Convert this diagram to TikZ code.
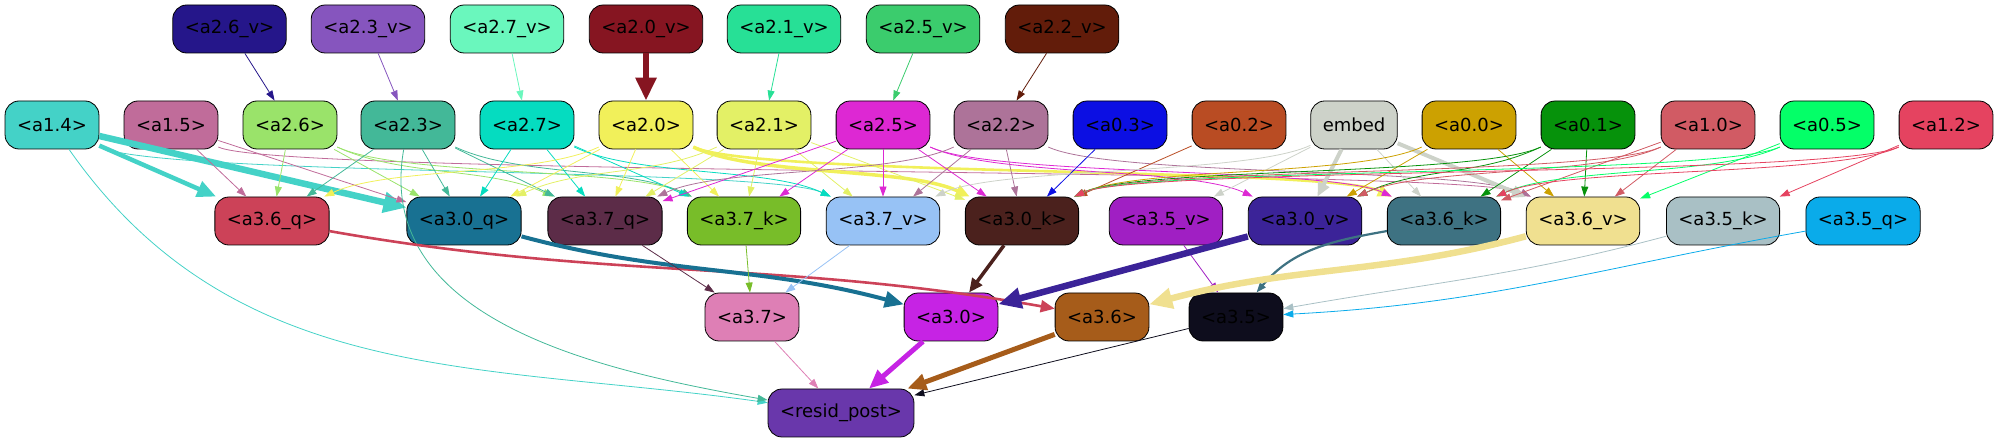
\documentclass[tikz,border=0pt]{standalone}
\usepackage{fontspec}
\setmainfont{DejaVu Sans}
\usetikzlibrary{arrows.meta}
% node colours
\definecolor{c26v}{HTML}{25168A}
\definecolor{c23v}{HTML}{8655BE}
\definecolor{c27v}{HTML}{6AF7BD}
\definecolor{c20v}{HTML}{861521}
\definecolor{c21v}{HTML}{27E096}
\definecolor{c25v}{HTML}{3BCC6D}
\definecolor{c22v}{HTML}{621C0A}
\definecolor{c14}{HTML}{44D2C7}
\definecolor{c15}{HTML}{C06C9A}
\definecolor{c26}{HTML}{9AE36A}
\definecolor{c23}{HTML}{43B898}
\definecolor{c27}{HTML}{05DCC0}
\definecolor{c20}{HTML}{F1F05A}
\definecolor{c21}{HTML}{E3F066}
\definecolor{c25}{HTML}{DD28D3}
\definecolor{c22}{HTML}{AD7399}
\definecolor{c03}{HTML}{0C0FE3}
\definecolor{c02}{HTML}{B94C23}
\definecolor{cemb}{HTML}{CDD2C9}
\definecolor{c00}{HTML}{CCA101}
\definecolor{c01}{HTML}{06920B}
\definecolor{c10}{HTML}{D15B64}
\definecolor{c05}{HTML}{04FF68}
\definecolor{c12}{HTML}{E54360}
\definecolor{c36q}{HTML}{CC4258}
\definecolor{c30q}{HTML}{187192}
\definecolor{c37q}{HTML}{5C2C48}
\definecolor{c37k}{HTML}{78BD29}
\definecolor{c37v}{HTML}{97C2F5}
\definecolor{c30k}{HTML}{4B211D}
\definecolor{c35v}{HTML}{A01FC3}
\definecolor{c30v}{HTML}{3B2398}
\definecolor{c36k}{HTML}{3E7282}
\definecolor{c36v}{HTML}{F0E090}
\definecolor{c35k}{HTML}{A9C0C5}
\definecolor{c35q}{HTML}{0AABEA}
\definecolor{c37}{HTML}{DE7FB5}
\definecolor{c30}{HTML}{C623E4}
\definecolor{c36}{HTML}{A65C1A}
\definecolor{c35}{HTML}{0E0D1D}
\definecolor{cres}{HTML}{6937AB}
\tikzset{
box/.style={ % rounded boxes of the graph
draw, line width=0.4pt,
rounded corners=7pt,
minimum height=24pt,
inner xsep=6pt, inner ysep=0pt,
font=\fontsize{9}{10}\selectfont},
every edge/.style={ % thin connector by default
draw, line width=0.4pt,
-{Triangle[length=5pt,width=3.5pt]}},
wmid/.style={line width=1.3pt, -{Triangle[length=7pt,width=6pt]}},
wfat/.style={line width=2.25pt, -{Triangle[length=9.5pt,width=8pt]}},
wbig/.style={line width=3.25pt, -{Triangle[length=11.5pt,width=10pt]}},
rt/.style={out=-25, in=155, distance=35pt}, % long run to the right
lt/.style={out=-155, in=25, distance=35pt}  % long run to the left
}

\begin{document}
\begin{tikzpicture}[x=0.5pt,y=0.5pt]
\useasboundingbox (0,0) rectangle (1996,443);
% top row
\node[box, fill=c26v] (a26v) at (229.5,414) {<a2.6\_v>};
\node[box, fill=c23v] (a23v) at (368,414) {<a2.3\_v>};
\node[box, fill=c27v] (a27v) at (507,414) {<a2.7\_v>};
\node[box, fill=c20v] (a20v) at (646,414) {<a2.0\_v>};
\node[box, fill=c21v] (a21v) at (784,414) {<a2.1\_v>};
\node[box, fill=c25v] (a25v) at (923,414) {<a2.5\_v>};
\node[box, fill=c22v] (a22v) at (1062,414) {<a2.2\_v>};
% second row
\node[box, fill=c14] (a14) at (52,318) {<a1.4>};
\node[box, fill=c15] (a15) at (171,318) {<a1.5>};
\node[box, fill=c26] (a26) at (290,318) {<a2.6>};
\node[box, fill=c23] (a23) at (408,318) {<a2.3>};
\node[box, fill=c27] (a27) at (527,318) {<a2.7>};
\node[box, fill=c20] (a20) at (646,318) {<a2.0>};
\node[box, fill=c21] (a21) at (764,318) {<a2.1>};
\node[box, fill=c25] (a25) at (883,318) {<a2.5>};
\node[box, fill=c22] (a22) at (1001,318) {<a2.2>};
\node[box, fill=c03] (a03) at (1120,318) {<a0.3>};
\node[box, fill=c02] (a02) at (1239,318) {<a0.2>};
\node[box, fill=cemb] (embed) at (1354,318) {embed};
\node[box, fill=c00] (a00) at (1469,318) {<a0.0>};
\node[box, fill=c01] (a01) at (1588,318) {<a0.1>};
\node[box, fill=c10] (a10) at (1708,318) {<a1.0>};
\node[box, fill=c05] (a05) at (1827,318) {<a0.5>};
\node[box, fill=c12] (a12) at (1946,318) {<a1.2>};
% third row
\node[box, fill=c36q] (a36q) at (272,222) {<a3.6\_q>};
\node[box, fill=c30q] (a30q) at (464,222) {<a3.0\_q>};
\node[box, fill=c37q] (a37q) at (605,222) {<a3.7\_q>};
\node[box, fill=c37k] (a37k) at (744,222) {<a3.7\_k>};
\node[box, fill=c37v] (a37v) at (883,222) {<a3.7\_v>};
\node[box, fill=c30k] (a30k) at (1022,222) {<a3.0\_k>};
\node[box, fill=c35v] (a35v) at (1166,222) {<a3.5\_v>};
\node[box, fill=c30v] (a30v) at (1305,222) {<a3.0\_v>};
\node[box, fill=c36k] (a36k) at (1444,222) {<a3.6\_k>};
\node[box, fill=c36v] (a36v) at (1583,222) {<a3.6\_v>};
\node[box, fill=c35k] (a35k) at (1723,222) {<a3.5\_k>};
\node[box, fill=c35q] (a35q) at (1863,222) {<a3.5\_q>};
% fourth row
\node[box, fill=c37] (a37) at (752,126) {<a3.7>};
\node[box, fill=c30] (a30) at (951,126) {<a3.0>};
\node[box, fill=c36] (a36) at (1102,126) {<a3.6>};
\node[box, fill=c35] (a35) at (1236,126) {<a3.5>};
\node[box, fill=cres] (resid) at (841,30) {<resid\_post>};
% top row to second row
\draw[c26v] (a26v) edge (a26);
\draw[c23v] (a23v) edge (a23);
\draw[c27v] (a27v) edge (a27);
\draw[c20v] (a20v) edge[wbig] (a20);
\draw[c21v] (a21v) edge (a21);
\draw[c25v] (a25v) edge (a25);
\draw[c22v] (a22v) edge (a22);
% second row to q, k, v
\draw[c14] (a14) edge[wfat] (a36q) edge[wbig] (a30q) edge[rt] (a37v) edge[out=-55, in=172] (resid);
\draw[c15] (a15) edge (a36q) edge (a30q) edge[rt] (a36v);
\draw[c26] (a26) edge (a36q) edge (a30q) edge[rt] (a37q) edge[rt] (a37k);
\draw[c23] (a23) edge (a36q) edge (a30q) edge (a37q) edge[rt] (a37k) edge[out=-100, in=170] (resid);
\draw[c27] (a27) edge (a30q) edge (a37q) edge (a37k) edge[rt] (a37v);
\draw[c20] (a20) edge[lt] (a36q) edge (a30q) edge (a37q) edge (a37k) edge[rt, wmid, line width=1.75pt] (a30k) edge[rt, wmid] (a36k);
\draw[c21] (a21) edge[lt] (a30q) edge (a37q) edge (a37k) edge (a37v) edge (a30k);
\draw[c25] (a25) edge (a37q) edge (a37k) edge (a37v) edge (a30k) edge[rt] (a30v) edge[rt] (a36k);
\draw[c22] (a22) edge[lt] (a37q) edge (a37v) edge (a30k) edge[rt] (a36v);
\draw[c03] (a03) edge (a30k);
\draw[c02] (a02) edge (a30k);
\draw[cemb] (embed) edge[lt] (a37v) edge (a35v) edge[wmid, line width=2pt] (a30v) edge (a36k) edge[wmid, line width=2pt] (a36v);
\draw[c00] (a00) edge[lt] (a30k) edge (a30v) edge (a36v);
\draw[c01] (a01) edge[lt] (a30k) edge[lt] (a30v) edge (a36k) edge (a36v);
\draw[c10] (a10) edge[lt] (a30k) edge[lt] (a30v) edge (a36k) edge (a36v);
\draw[c05] (a05) edge[lt] (a30k) edge[lt] (a36k) edge (a36v);
\draw[c12] (a12) edge[lt] (a30k) edge[lt] (a36k) edge (a35k);
% q, k, v to the sums
\draw[c36q] (a36q) edge[wmid, out=-10, in=170] (a36);
\draw[c30q] (a30q) edge[wfat, line width=2pt, out=-15, in=165] (a30);
\draw[c37q] (a37q) edge (a37);
\draw[c37k] (a37k) edge (a37);
\draw[c37v] (a37v) edge (a37);
\draw[c30k] (a30k) edge[wmid, line width=1.75pt] (a30);
\draw[c35v] (a35v) edge (a35);
\draw[c30v] (a30v) edge[wbig] (a30);
\draw[c36k] (a36k) edge[line width=1.1pt, out=190, in=50] (a35);
\draw[c36v] (a36v) edge[wbig, out=195, in=15] (a36);
\draw[c35k] (a35k) edge[out=195, in=10] (a35);
\draw[c35q] (a35q) edge[out=190, in=3] (a35);
% sums to the residual
\draw[c37] (a37) edge (resid);
\draw[c30] (a30) edge[wfat, line width=2.5pt] (resid);
\draw[c36] (a36) edge[wfat, line width=2.5pt] (resid);
\draw[c35] (a35) edge (resid);
\end{tikzpicture}
\end{document}
